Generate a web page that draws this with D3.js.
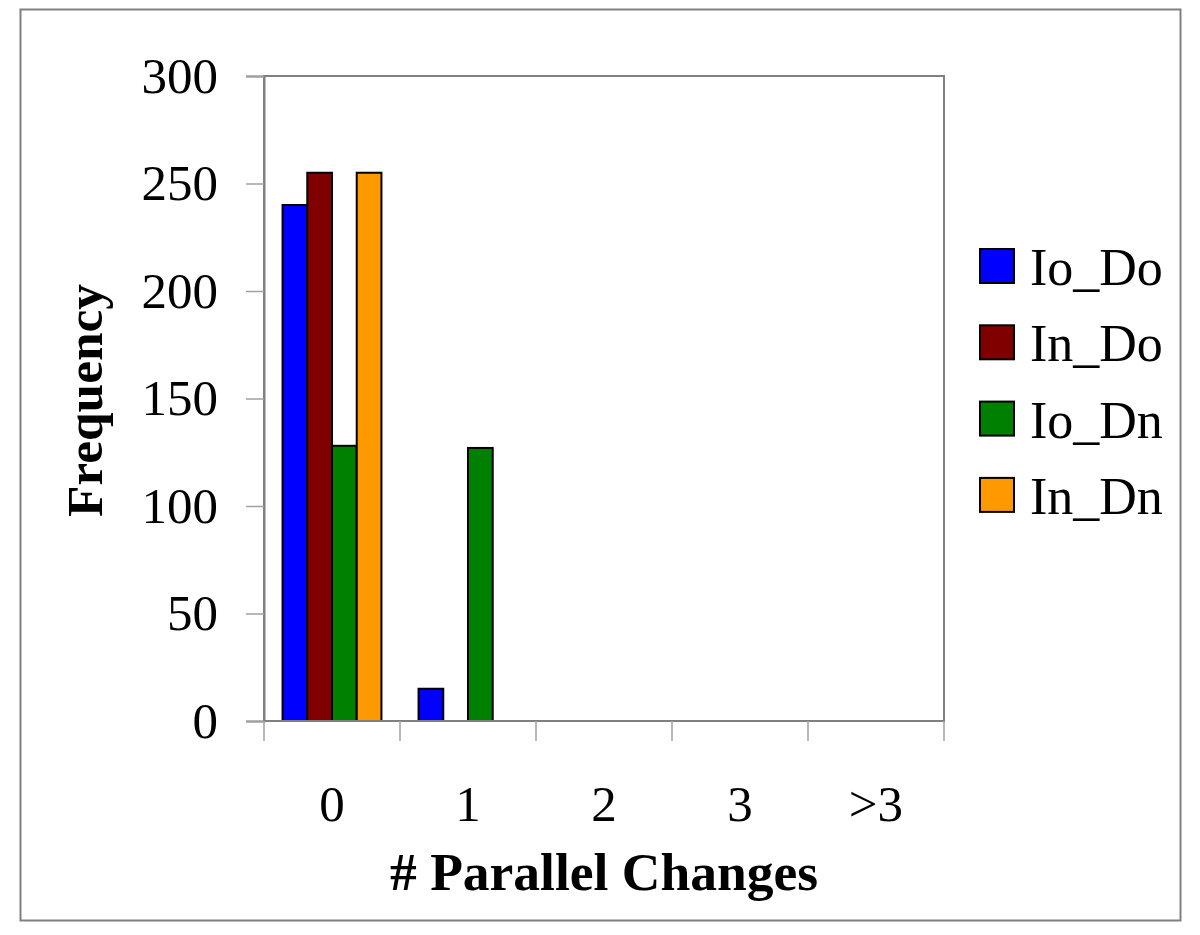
<!DOCTYPE html>
<html>
<head>
<meta charset="utf-8">
<script src="https://cdn.jsdelivr.net/npm/d3@7"></script>
<style>
  html, body { margin: 0; padding: 0; background: #fff; }
  svg { display: block; }
  text { font-family: "Liberation Serif", "Times New Roman", serif; fill: #000; }
</style>
</head>
<body>
<svg id="chart" width="1200" height="935"></svg>
<script>
const categories = ["0", "1", "2", "3", ">3"];
const seriesNames = ["Io_Do", "In_Do", "Io_Dn", "In_Dn"];
const seriesColors = ["#0000ff", "#800000", "#008000", "#ff9900"];
const ioDo = [240, 15, 0, 0, 0];
const inDo = [255, 0, 0, 0, 0];
const ioDn = [128, 127, 0, 0, 0];
const inDn = [255, 0, 0, 0, 0];
const yTicks = [0, 50, 100, 150, 200, 250, 300];

const seriesValues = [ioDo, inDo, ioDn, inDn];

const svg = d3.select("#chart");
const plot = { left: 264, top: 76, right: 944, bottom: 721 };

// outer frame
svg.append("rect")
  .attr("x", 20.5).attr("y", 9.5)
  .attr("width", 1160).attr("height", 911)
  .attr("fill", "#fff").attr("stroke", "#808080").attr("stroke-width", 2);

const x0 = d3.scaleBand().domain(categories).range([plot.left, plot.right]).paddingInner(0).paddingOuter(0);
// Excel gap width 150%: band = 4 bars + 1.5 bar
const bw = x0.bandwidth() / 5.5;
const x1 = d3.scaleBand().domain(seriesNames)
  .range([bw * 0.75, bw * 0.75 + 4 * bw]).padding(0);
const y = d3.scaleLinear().domain([0, 300]).range([plot.bottom, plot.top]);

// plot area background
svg.append("rect")
  .attr("x", plot.left).attr("y", plot.top)
  .attr("width", plot.right - plot.left).attr("height", plot.bottom - plot.top)
  .attr("fill", "#fff");

// bars
const groups = svg.append("g").selectAll("g")
  .data(categories)
  .join("g")
  .attr("transform", d => `translate(${x0(d)},0)`);

groups.selectAll("rect")
  .data((c, ci) => seriesNames.map((s, si) => ({ s, si, v: seriesValues[si][ci] })).filter(d => d.v > 0))
  .join("rect")
  .attr("x", d => x1(d.s))
  .attr("width", x1.bandwidth())
  .attr("y", d => y(d.v))
  .attr("height", d => y(0) - y(d.v))
  .attr("fill", d => seriesColors[d.si])
  .attr("stroke", "#000")
  .attr("stroke-width", 2);

// plot border
svg.append("rect")
  .attr("x", plot.left).attr("y", plot.top)
  .attr("width", plot.right - plot.left).attr("height", plot.bottom - plot.top)
  .attr("fill", "none").attr("stroke", "#808080").attr("stroke-width", 2);

// y axis
const yAxis = d3.axisLeft(y).tickValues(yTicks).tickSize(18).tickPadding(28);
const gy = svg.append("g").attr("transform", `translate(${plot.left},0)`).call(yAxis);
gy.select(".domain").attr("stroke", "#808080").attr("stroke-width", 2);
gy.selectAll(".tick line").attr("stroke", "#a0a0a0").attr("stroke-width", 1.5);
gy.selectAll(".tick text")
  .attr("font-family", "Liberation Serif, Times New Roman, serif")
  .attr("font-size", 51).attr("fill", "#000");

// x axis: ticks at category boundaries
const xAxisG = svg.append("g").attr("transform", `translate(0,${plot.bottom})`);
xAxisG.append("line")
  .attr("x1", plot.left).attr("x2", plot.right)
  .attr("stroke", "#808080").attr("stroke-width", 2);
const boundaries = categories.map(c => x0(c)).concat([x0(categories[categories.length - 1]) + x0.bandwidth()]);
xAxisG.selectAll("line.tk").data(boundaries).join("line")
  .attr("class", "tk")
  .attr("x1", d => d).attr("x2", d => d)
  .attr("y1", 0).attr("y2", 20)
  .attr("stroke", "#a0a0a0").attr("stroke-width", 1.5);
xAxisG.selectAll("text").data(categories).join("text")
  .attr("x", d => x0(d) + x0.bandwidth() / 2)
  .attr("y", 100)
  .attr("text-anchor", "middle")
  .attr("font-size", 51)
  .text(d => d);

// axis titles
svg.append("text")
  .attr("x", (plot.left + plot.right) / 2)
  .attr("y", 890)
  .attr("text-anchor", "middle")
  .attr("font-size", 52)
  .attr("font-weight", "bold")
  .attr("textLength", 428)
  .attr("lengthAdjust", "spacingAndGlyphs")
  .text("# Parallel Changes");

svg.append("text")
  .attr("transform", `translate(102,${(plot.top + plot.bottom) / 2 + 2}) rotate(-90)`)
  .attr("text-anchor", "middle")
  .attr("font-size", 51)
  .attr("font-weight", "bold")
  .attr("textLength", 233)
  .attr("lengthAdjust", "spacingAndGlyphs")
  .text("Frequency");

// legend
const legend = svg.append("g").attr("transform", "translate(980,249)");
const rows = legend.selectAll("g").data(seriesNames).join("g")
  .attr("transform", (d, i) => `translate(0,${i * 76.3})`);
rows.append("rect")
  .attr("width", 34).attr("height", 34)
  .attr("fill", (d, i) => seriesColors[i])
  .attr("stroke", "#000").attr("stroke-width", 2);
rows.append("text")
  .attr("x", 50).attr("y", 36)
  .attr("font-size", 52)
  .text(d => d);
</script>
</body>
</html>
